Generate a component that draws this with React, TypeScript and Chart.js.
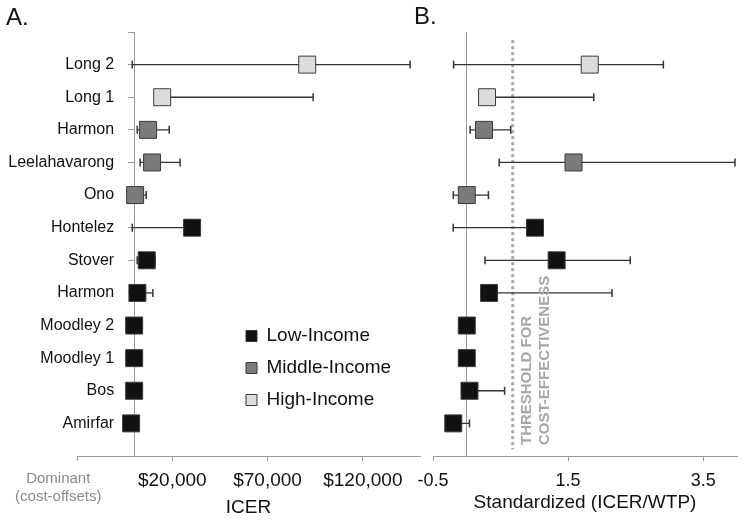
import { useEffect, useRef } from 'react';
import { Chart, registerables } from 'chart.js';

Chart.register(...registerables);

// ---------- data ----------
const studies = ['Long 2', 'Long 1', 'Harmon', 'Leelahavarong', 'Ono', 'Hontelez', 'Stover', 'Harmon', 'Moodley 2', 'Moodley 1', 'Bos', 'Amirfar'];
const incomeGroup = ['High', 'High', 'Middle', 'Middle', 'Middle', 'Low', 'Low', 'Low', 'Low', 'Low', 'Low', 'Low'];

const icerMid = [90800, 14700, 7300, 9400, 500, 30400, 6600, 1700, 0, 0, 0, -1600];
const icerLow = [-1000, 14700, 1600, 3100, 500, -1000, 1600, 1700, 0, 0, 0, -1600];
const icerHigh = [144800, 93900, 18400, 24100, 6300, 30400, 11000, 9800, 0, 0, 0, -1600];

const stdMid = [1.82, 0.3, 0.255, 1.58, 0.0, 1.01, 1.33, 0.33, 0.0, 0.0, 0.04, -0.2];
const stdLow = [-0.195, 0.3, 0.05, 0.48, -0.2, -0.2, 0.27, 0.33, 0.0, 0.0, 0.04, -0.2];
const stdHigh = [2.91, 1.88, 0.65, 3.97, 0.32, 1.01, 2.42, 2.15, 0.0, 0.0, 0.56, 0.04];

const thresholdStd = 0.68;

const icerTickValues = [-30000, 20000, 70000, 120000];
const icerTickLabels: (string | string[])[] = [
  ['Dominant         ', '(cost-offsets)         '],
  '$20,000',
  '$70,000',
  '$120,000',
];
const stdTickValues = [-0.5, 1.5, 3.5];
const stdTickLabels = ['-0.5', '1.5', '3.5'];

const incomeKeys = ['Low', 'Middle', 'High'];
const incomeNames = ['Low-Income', 'Middle-Income', 'High-Income'];
const thresholdLines = ['THRESHOLD FOR', 'COST-EFFECTIVENESS'];

// ---------- styles / placement ----------
const incomeColors = ['#111111', '#7b7b7b', '#dcdcdc'];
const FONT = "'Liberation Sans', Arial, Helvetica, sans-serif";
const AXIS_GRAY = '#9a9a9a';
const LABEL_AXIS_AT = -10500; // where the study-name column is anchored on the ICER axis

Chart.defaults.font.family = FONT;

const rowTicks = [0, ...studies.map((_, i) => i + 1)];
const labelTicks = studies.map((_, i) => i + 1);

function boxSets(mid: number[]) {
  return incomeKeys.map((k, g) => ({
    label: incomeNames[g],
    yAxisID: 'y',
    data: studies
      .map((_, i) => ({ x: mid[i], y: i + 1 }))
      .filter((_, i) => incomeGroup[i] === k),
    backgroundColor: incomeColors[g],
    borderColor: '#3a3a3a',
    borderWidth: 1,
    pointStyle: 'rect',
    pointRadius: 12,
    pointHoverRadius: 12,
    pointBorderWidth: 1,
    showLine: false,
  }));
}

function whiskerSets(lo: number[], hi: number[]) {
  return studies.map((s, i) => ({
    label: 'range ' + s,
    yAxisID: 'y',
    data: [
      { x: lo[i], y: i + 1 },
      { x: hi[i], y: i + 1 },
    ],
    showLine: true,
    borderColor: '#333',
    borderWidth: 1.3,
    pointStyle: 'line',
    pointRotation: 90,
    pointRadius: 4,
    pointHoverRadius: 4,
    pointBorderColor: '#333',
    pointBorderWidth: 1.5,
    pointBackgroundColor: '#333',
  }));
}

function yScale(drawTicks: boolean) {
  return {
    type: 'linear',
    min: 0,
    max: 13,
    reverse: true,
    position: { x: 0 },
    afterBuildTicks: (scale: any) => {
      scale.ticks = rowTicks.map((v) => ({ value: v }));
    },
    ticks: { display: false, autoSkip: false },
    grid: {
      display: true,
      drawOnChartArea: false,
      drawTicks,
      tickLength: 6,
      color: AXIS_GRAY,
    },
    border: { display: true, color: AXIS_GRAY, width: 1 },
  };
}

const labelScale = {
  type: 'linear',
  min: 0,
  max: 13,
  reverse: true,
  position: { x: LABEL_AXIS_AT },
  afterBuildTicks: (scale: any) => {
    scale.ticks = labelTicks.map((v) => ({ value: v }));
  },
  ticks: {
    display: true,
    autoSkip: false,
    padding: 0,
    color: '#111',
    font: { size: 16 },
    callback: (v: any) => studies[Number(v) - 1] ?? '',
  },
  grid: { display: false, drawTicks: false },
  border: { display: false },
};

export default function App() {
  const leftRef = useRef<HTMLCanvasElement>(null);
  const rightRef = useRef<HTMLCanvasElement>(null);

  useEffect(() => {
    const panelA = {
      id: 'panelA',
      afterDraw(chart: any) {
        const ctx = chart.ctx;
        ctx.save();
        ctx.font = `24px ${FONT}`;
        ctx.fillStyle = '#111';
        ctx.textBaseline = 'alphabetic';
        ctx.fillText('A.', 6, 25);
        ctx.restore();
      },
    };
    const legendPlace = {
      id: 'legendPlace',
      beforeDraw(chart: any) {
        const lg = chart.legend;
        if (!lg) return;
        lg.left = 233;
        lg.top = 313.5;
        lg.right = 420;
        lg.bottom = 456;
      },
    };

    const left = new Chart(leftRef.current!, {
      type: 'scatter',
      data: { datasets: [...boxSets(icerMid), ...whiskerSets(icerLow, icerHigh)] as any },
      options: {
        responsive: false,
        animation: false,
        events: [],
        layout: { padding: { left: 77, right: 330, top: 32, bottom: 0 } },
        plugins: {
          tooltip: { enabled: false },
          legend: {
            display: true,
            position: 'chartArea',
            align: 'start',
            labels: {
              boxWidth: 11,
              boxHeight: 11,
              padding: 13,
              color: '#111',
              font: { size: 19 },
              filter: (item: any) => item.datasetIndex < 3,
            },
          },
        },
        scales: {
          x: {
            type: 'linear',
            position: 'bottom',
            min: -30000,
            max: 150000,
            afterBuildTicks: (scale: any) => {
              scale.ticks = icerTickValues.map((v) => ({ value: v }));
            },
            afterFit: (scale: any) => {
              scale.height = 66;
            },
            ticks: {
              autoSkip: false,
              minRotation: 0,
              maxRotation: 0,
              padding: 8.6,
              color: (c: any) => (c.index === 0 ? '#8a8a8a' : '#111'),
              font: (c: any) => (c.index === 0 ? { size: 15 } : { size: 19 }),
              callback: (_v: any, i: number) => icerTickLabels[i],
            },
            grid: { display: true, drawOnChartArea: false, drawTicks: true, tickLength: 5, color: AXIS_GRAY },
            border: { display: true, color: AXIS_GRAY, width: 1 },
            title: { display: true, text: 'ICER', color: '#111', font: { size: 19 }, padding: { top: 0, bottom: 3 } },
          },
          y: yScale(true) as any,
          yLab: labelScale as any,
        },
      } as any,
      plugins: [panelA, legendPlace],
    });

    const panelB = {
      id: 'panelB',
      afterDraw(chart: any) {
        const ctx = chart.ctx;
        ctx.save();
        ctx.font = `24px ${FONT}`;
        ctx.fillStyle = '#111';
        ctx.textBaseline = 'alphabetic';
        ctx.fillText('B.', 414, 24);
        const px = chart.scales.x.getPixelForValue(thresholdStd);
        const py = chart.scales.y.bottom - 11;
        ctx.translate(px + 14, py);
        ctx.rotate(-Math.PI / 2);
        ctx.font = `bold 15px ${FONT}`;
        ctx.fillStyle = '#a6a6a6';
        ctx.textAlign = 'left';
        ctx.textBaseline = 'middle';
        thresholdLines.forEach((t, i) => ctx.fillText(t, 0, i * 18.5));
        ctx.restore();
      },
    };

    const right = new Chart(rightRef.current!, {
      type: 'scatter',
      data: {
        datasets: [
          ...boxSets(stdMid),
          ...whiskerSets(stdLow, stdHigh),
          {
            label: 'threshold',
            yAxisID: 'y',
            data: [
              { x: thresholdStd, y: 0.25 },
              { x: thresholdStd, y: 12.8 },
            ],
            showLine: true,
            borderColor: '#a8a8a8',
            borderWidth: 3,
            borderDash: [3, 3],
            borderCapStyle: 'butt',
            pointRadius: 0,
            pointHoverRadius: 0,
            order: 10,
          },
        ] as any,
      },
      options: {
        responsive: false,
        animation: false,
        events: [],
        layout: { padding: { left: 433, right: 7, top: 32, bottom: 0 } },
        plugins: { tooltip: { enabled: false }, legend: { display: false } },
        scales: {
          x: {
            type: 'linear',
            position: 'bottom',
            min: -0.5,
            max: 4.0,
            afterBuildTicks: (scale: any) => {
              scale.ticks = stdTickValues.map((v) => ({ value: v }));
            },
            afterFit: (scale: any) => {
              scale.height = 66;
            },
            ticks: {
              autoSkip: false,
              minRotation: 0,
              maxRotation: 0,
              padding: 9,
              color: '#111',
              font: { size: 18 },
              callback: (_v: any, i: number) => stdTickLabels[i],
            },
            grid: { display: true, drawOnChartArea: false, drawTicks: true, tickLength: 5, color: AXIS_GRAY },
            border: { display: true, color: AXIS_GRAY, width: 1 },
            title: {
              display: true,
              text: 'Standardized (ICER/WTP)',
              color: '#111',
              font: { size: 19 },
              padding: { top: 0, bottom: 8 },
            },
          },
          y: yScale(false) as any,
        },
      } as any,
      plugins: [panelB],
    });

    return () => {
      left.destroy();
      right.destroy();
    };
  }, []);

  return (
    <div style={{ position: 'absolute', left: 0, top: 0, width: 750, height: 522, background: '#fff' }}>
      <canvas ref={leftRef} width={750} height={522} style={{ position: 'absolute', left: 0, top: 0 }} />
      <canvas ref={rightRef} width={750} height={522} style={{ position: 'absolute', left: 0, top: 0 }} />
    </div>
  );
}
